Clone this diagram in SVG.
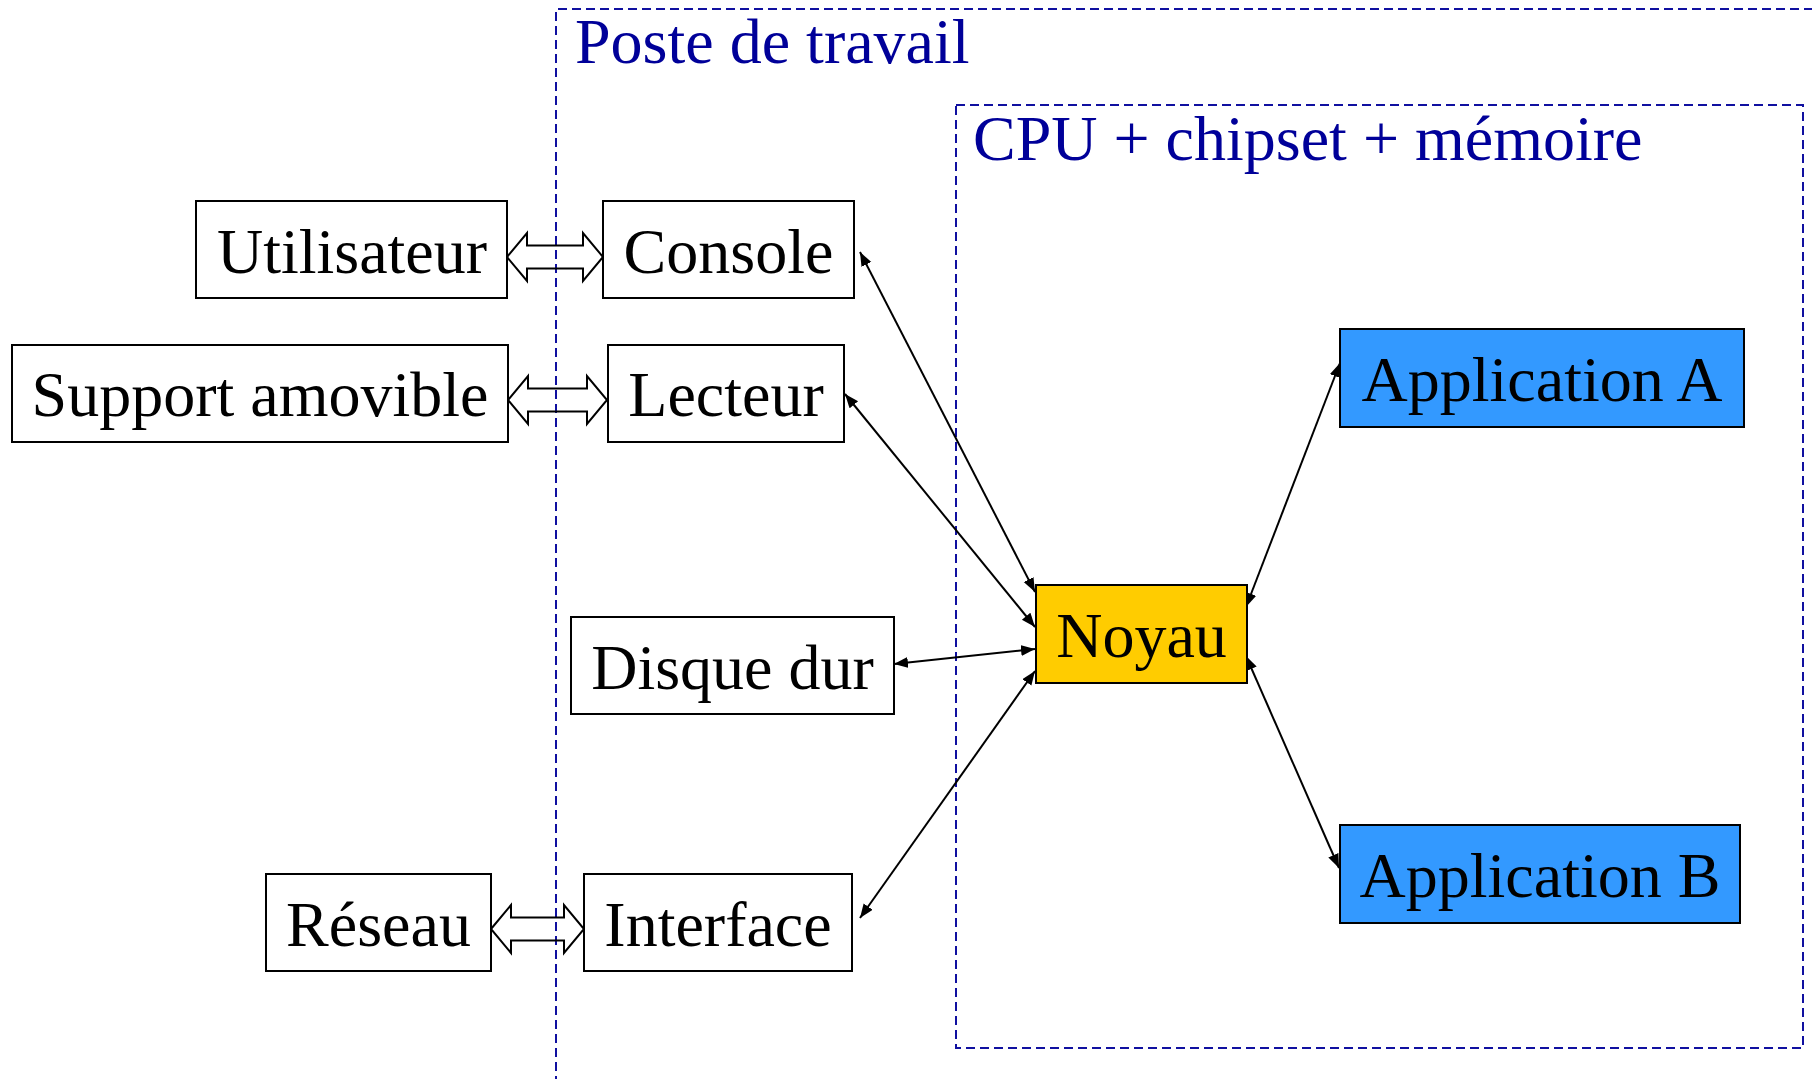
<svg xmlns="http://www.w3.org/2000/svg" width="1812" height="1079" viewBox="0 0 1812 1079">
  <style>
    .zone { fill: none; stroke: #1010A0; stroke-width: 2; stroke-dasharray: 9 5; }
    .zone-label { font-family: "Liberation Serif", "Times New Roman", serif; font-size: 64px; fill: #000099; }
    .box { stroke: #000; stroke-width: 2; }
    .plain { fill: #fff; }
    .kernel { fill: #FFCC00; }
    .app { fill: #3399FF; }
    .label { font-family: "Liberation Serif", "Times New Roman", serif; font-size: 64px; fill: #000; text-anchor: middle; }
    .link { stroke: #000; stroke-width: 2; fill: none; marker-start: url(#head); marker-end: url(#head); }
    .bus { fill: none; stroke: #000; stroke-width: 2; stroke-linejoin: miter; }
  </style>
  <defs>
    <marker id="head" markerUnits="userSpaceOnUse" markerWidth="16" markerHeight="13" refX="14" refY="5.5" orient="auto-start-reverse">
      <path d="M0,0 L14,5.5 L0,11 z" fill="#000"/>
    </marker>
  </defs>

  <rect width="1812" height="1079" fill="#fff"/>

  <!-- Containers -->
  <g id="poste-de-travail">
    <path class="zone" d="M556,1085 V9 H1820"/>
    <text class="zone-label" x="575" y="63">Poste de travail</text>
  </g>
  <g id="cpu-chipset-memoire">
    <rect class="zone" x="956" y="105" width="847" height="943"/>
    <text class="zone-label" x="973" y="160">CPU + chipset + mémoire</text>
  </g>

  <!-- Connectors -->
  <g id="connectors">
    <!-- hollow double arrows across the workstation boundary -->
    <polygon class="bus" points="507,257 527,233 527,245.5 583,245.5 583,233 603,257 583,281 583,268.5 527,268.5 527,281"/>
    <polygon class="bus" points="508,400 528,376 528,388.5 587,388.5 587,376 607,400 587,424 587,411.5 528,411.5 528,424"/>
    <polygon class="bus" points="491,929 511,905 511,917.5 564,917.5 564,905 584,929 564,953 564,940.5 511,940.5 511,953"/>
    <!-- links to the kernel -->
    <line class="link" x1="860" y1="252" x2="1035" y2="592"/>
    <line class="link" x1="845" y1="394" x2="1035" y2="627"/>
    <line class="link" x1="894" y1="664" x2="1035" y2="649"/>
    <line class="link" x1="860" y1="918" x2="1035" y2="671"/>
    <line class="link" x1="1246" y1="607" x2="1340" y2="363"/>
    <line class="link" x1="1246" y1="656" x2="1339" y2="868"/>
  </g>

  <!-- Nodes -->
  <g id="utilisateur">
    <rect class="box plain" x="196" y="201" width="311" height="97"/>
    <text class="label" x="352" y="273">Utilisateur</text>
  </g>
  <g id="console">
    <rect class="box plain" x="603" y="201" width="251" height="97"/>
    <text class="label" x="728.5" y="273">Console</text>
  </g>
  <g id="support-amovible">
    <rect class="box plain" x="12" y="345" width="496" height="97"/>
    <text class="label" x="260" y="416">Support amovible</text>
  </g>
  <g id="lecteur">
    <rect class="box plain" x="608" y="345" width="236" height="97"/>
    <text class="label" x="726" y="416">Lecteur</text>
  </g>
  <g id="disque-dur">
    <rect class="box plain" x="571" y="617" width="323" height="97"/>
    <text class="label" x="732.5" y="689">Disque dur</text>
  </g>
  <g id="reseau">
    <rect class="box plain" x="266" y="874" width="225" height="97"/>
    <text class="label" x="378.5" y="946">Réseau</text>
  </g>
  <g id="interface">
    <rect class="box plain" x="584" y="874" width="268" height="97"/>
    <text class="label" x="718" y="946">Interface</text>
  </g>
  <g id="noyau">
    <rect class="box kernel" x="1036" y="585" width="211" height="98"/>
    <text class="label" x="1141.5" y="657">Noyau</text>
  </g>
  <g id="application-a">
    <rect class="box app" x="1340" y="329" width="404" height="98"/>
    <text class="label" x="1542" y="401">Application A</text>
  </g>
  <g id="application-b">
    <rect class="box app" x="1340" y="825" width="400" height="98"/>
    <text class="label" x="1540" y="897">Application B</text>
  </g>
</svg>
